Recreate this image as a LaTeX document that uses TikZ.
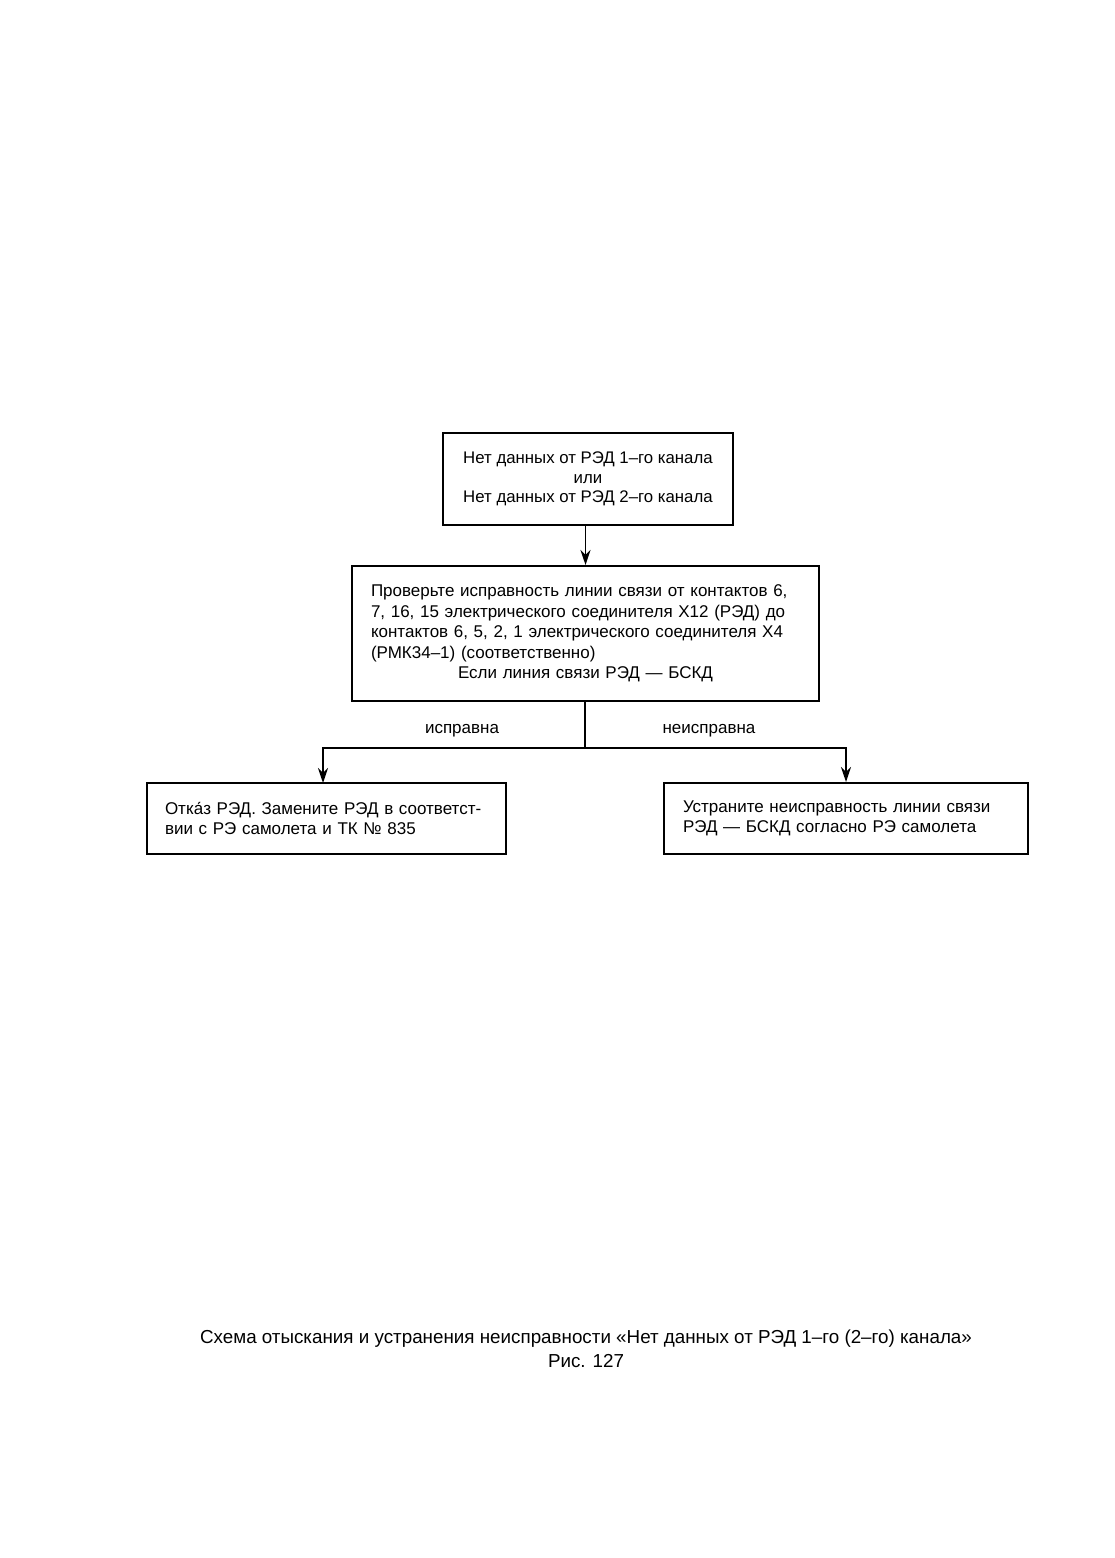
\documentclass[tikz,border=0pt]{standalone}
\usepackage{fontspec}
\setmainfont{Liberation Sans}
\usetikzlibrary{arrows.meta}
\tikzset{
  box/.style={draw, line width=2pt, rectangle, inner ysep=0pt, font=\fontsize{17}{20.6}\selectfont},
  conn/.style={line width=1.6pt},
  arr/.style={conn, -{Stealth[length=15pt,width=10pt]}},
  lbl/.style={font=\fontsize{17}{20}\selectfont, inner sep=0pt}
}
\begin{document}
\begin{tikzpicture}[x=1pt,y=-1pt]
\useasboundingbox (0,0) rectangle (1115,1558);
\fill[white] (0,0) rectangle (1115,1558);
\node[box, minimum width=290pt, minimum height=92pt, align=center,
      font=\fontsize{16.8}{19.3}\selectfont] (b1) at (588,479)
  {\raisebox{-3pt}{\parbox{270pt}{\centering Нет данных от РЭД 1–го канала\\или\\Нет данных от РЭД 2–го канала}}};
\node[box, minimum height=135pt, inner xsep=19pt, text width=429pt, align=left] (b2) at (585.5,633.5)
  {Проверьте исправность линии связи от контактов 6,\\
   7, 16, 15 электрического соединителя Х12 (РЭД) до\\
   контактов 6, 5, 2, 1 электрического соединителя Х4\\
   (РМК34–1) (соответственно)\\
   \makebox[\linewidth][c]{Если линия связи РЭД — БСКД}};
\node[box, minimum height=71pt, inner xsep=18pt, text width=323pt, align=left] (b3) at (326.5,818.5)
  {Отка́з РЭД. Замените РЭД в соответст-\\вии с РЭ самолета и ТК № 835};
\node[box, minimum height=71pt, inner xsep=19pt, text width=326pt, align=left] (b4) at (846,818.5)
  {Устраните неисправность линии связи\\РЭД — БСКД согласно РЭ самолета};
\coordinate (j) at (585,748);
\coordinate (a3) at (323,783);
\draw[arr] (b2.north |- b1.south) -- (b2.north);
\draw[conn] (b2.south -| j) -- (j);
\draw[arr] (j) -| (a3);
\draw[arr] (j) -| (b4.north);
\node[lbl] (l1) at (462,731) {исправна};
\node[lbl] (l2) at (709,731) {неисправна};
\node[lbl, align=center, font=\fontsize{18.8}{24}\selectfont] (cap) at (586,1349)
  {Схема отыскания и устранения неисправности «Нет данных от РЭД 1–го (2–го) канала»\\Рис. 127};
\end{tikzpicture}
\end{document}
